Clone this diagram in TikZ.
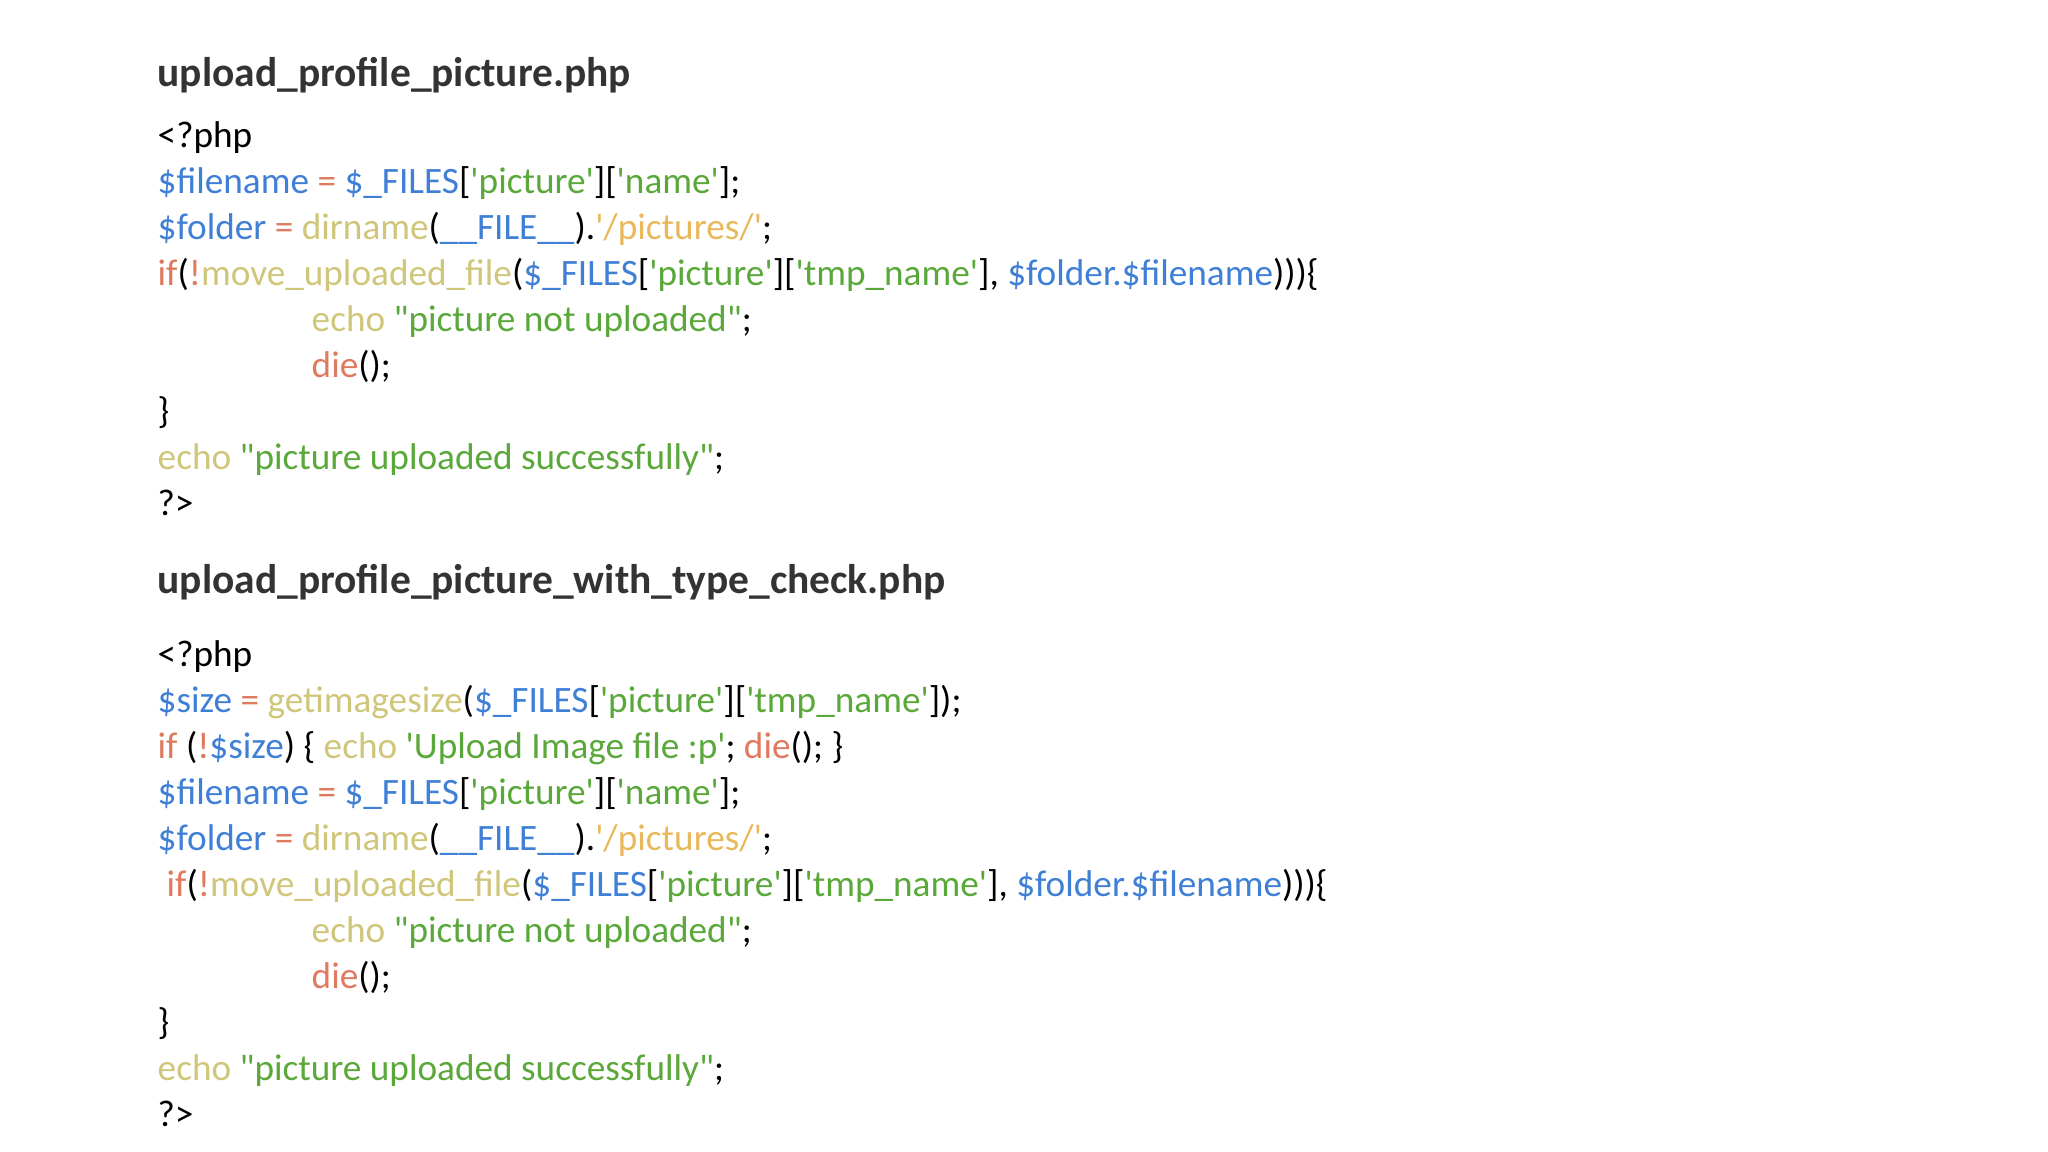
\documentclass[tikz,border=0pt]{standalone}
\usepackage{fontspec}
\newfontfamily\code{Carlito}
\definecolor{phpblue}{HTML}{3F7FD6}
\definecolor{phpgreen}{HTML}{5AA83A}
\definecolor{phpkhaki}{HTML}{CFC67A}
\definecolor{phporange}{HTML}{E07A5F}
\definecolor{phptan}{HTML}{E8B85A}
\definecolor{titlegray}{HTML}{333333}
\newcommand\phpb[1]{\textcolor{phpblue}{#1}}
\newcommand\phpg[1]{\textcolor{phpgreen}{#1}}
\newcommand\phpk[1]{\textcolor{phpkhaki}{#1}}
\newcommand\phpo[1]{\textcolor{phporange}{#1}}
\newcommand\phpt[1]{\textcolor{phptan}{#1}}
\tikzset{
  codeline/.style={anchor=base west, inner sep=0pt, font=\code\fontsize{10.6}{12}\selectfont, text=black},
  filetitle/.style={anchor=base west, inner sep=0pt, font=\code\bfseries\fontsize{11.8}{13}\selectfont, text=titlegray}
}
\begin{document}
\begin{tikzpicture}[x=0.1mm,y=-0.1mm]
    \useasboundingbox (0,0) rectangle (2048,1152);
    % first file
    \node [filetitle] (titleA) at (157,87) {upload\_profile\_picture.php};
    \node [codeline] (a1) at (157,148) {<?php};
    \node [codeline] (a2) at (157,194) {\phpb{\$filename} \phpo{=} \phpb{\$\_FILES}[\phpg{'picture'}][\phpg{'name'}];};
    \node [codeline] (a3) at (157,240) {\phpb{\$folder} \phpo{=} \phpk{dirname}(\phpb{\_\_FILE\_\_}).\phpt{'/pictures/'};};
    \node [codeline] (a4) at (157,286) {\phpo{if}(\phpo{!}\phpk{move\_uploaded\_file}(\phpb{\$\_FILES}[\phpg{'picture'}][\phpg{'tmp\_name'}], \phpb{\$folder.\$filename})))\{};
    \node [codeline] (a5) at (311,332) {\phpk{echo} \phpg{"picture not uploaded"};};
    \node [codeline] (a6) at (311,378) {\phpo{die}();};
    \node [codeline] (a7) at (157,424) {\}};
    \node [codeline] (a8) at (157,470) {\phpk{echo} \phpg{"picture uploaded successfully"};};
    \node [codeline] (a9) at (157,516) {?>};
    % second file
    \node [filetitle] (titleB) at (157,594) {upload\_profile\_picture\_with\_type\_check.php};
    \node [codeline] (b1) at (157,667) {<?php};
    \node [codeline] (b2) at (157,713) {\phpb{\$size} \phpo{=} \phpk{getimagesize}(\phpb{\$\_FILES}[\phpg{'picture'}][\phpg{'tmp\_name'}]);};
    \node [codeline] (b3) at (157,759) {\phpo{if} (\phpo{!}\phpb{\$size}) \{ \phpk{echo} \phpg{'Upload Image file :p'}; \phpo{die}(); \}};
    \node [codeline] (b4) at (157,805) {\phpb{\$filename} \phpo{=} \phpb{\$\_FILES}[\phpg{'picture'}][\phpg{'name'}];};
    \node [codeline] (b5) at (157,851) {\phpb{\$folder} \phpo{=} \phpk{dirname}(\phpb{\_\_FILE\_\_}).\phpt{'/pictures/'};};
    \node [codeline] (b6) at (166,897) {\phpo{if}(\phpo{!}\phpk{move\_uploaded\_file}(\phpb{\$\_FILES}[\phpg{'picture'}][\phpg{'tmp\_name'}], \phpb{\$folder.\$filename})))\{};
    \node [codeline] (b7) at (311,943) {\phpk{echo} \phpg{"picture not uploaded"};};
    \node [codeline] (b8) at (311,989) {\phpo{die}();};
    \node [codeline] (b9) at (157,1035) {\}};
    \node [codeline] (b10) at (157,1081) {\phpk{echo} \phpg{"picture uploaded successfully"};};
    \node [codeline] (b11) at (157,1127) {?>};
\end{tikzpicture}
\end{document}
